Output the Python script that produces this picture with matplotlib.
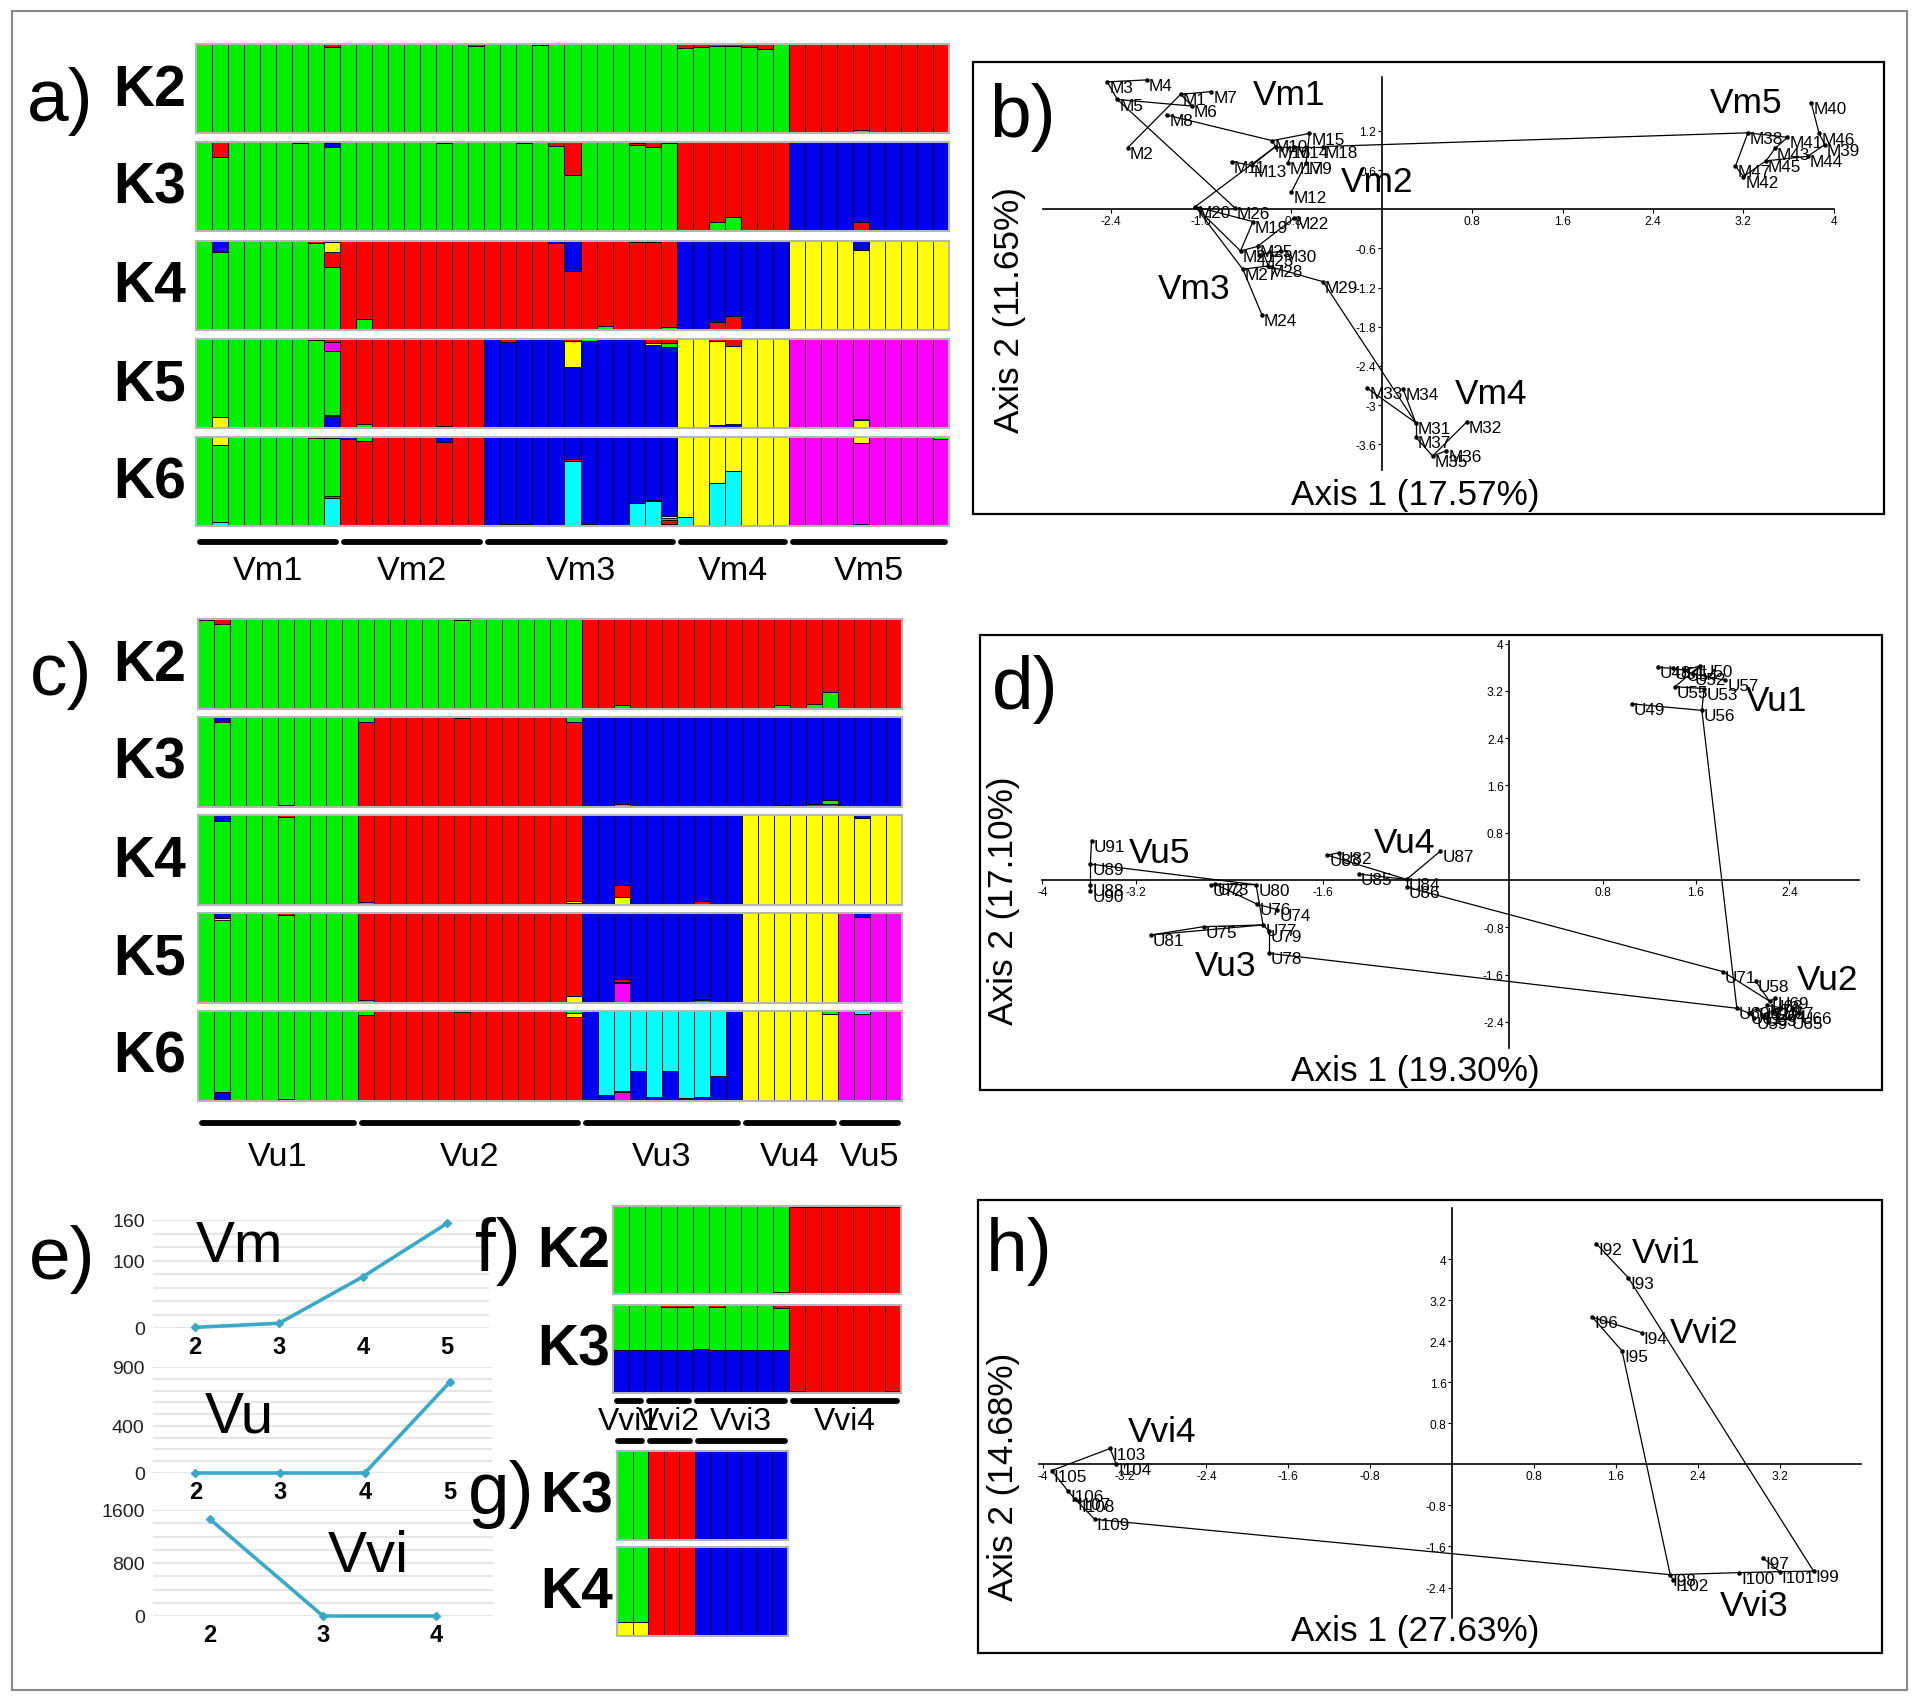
import re
import numpy as np
import matplotlib
matplotlib.use('Agg')
import matplotlib.pyplot as plt
from matplotlib import font_manager
from matplotlib.patches import Rectangle
from matplotlib.lines import Line2D

# ---------------- data ----------------
# admixture bars: one token per individual, clusters listed bottom -> top,
# number = percent, last cluster takes the rest
CLUSTER_COLORS = {'g': '#00f000', 'r': '#ff0000', 'b': '#0000f0',
                  'y': '#ffff00', 'm': '#ff00ff', 'c': '#00ffff'}

A_POPS = ["Vm1", "Vm2", "Vm3", "Vm4", "Vm5"]
A_SIZES = [9, 9, 12, 7, 10]
A_K2 = ["g g g g g g g g g97r",
        "g g g g g g g g g98r",
        "g g g g99r g g g g g g g g",
        "g96r g97r g98r g98r g97r g94r g",
        "r r r r g3r r r r r r"]
A_K3 = ["g g84r g g g g g99b g g95b4r",
        "g g g g g g g99b g g",
        "g g g99r g g96r g63r g g g g97r2b g95r g99b",
        "r r g11r g16r r r r",
        "b b b b r11b b b b b r1b"]
A_K4 = ["g g87b g g g g g g97r g70r17y11b",
        "r g12r r r r r r r r",
        "r r r r r97b r66b r g4r r r98b r98b g3r",
        "b b r8b r15b b b b",
        "y y y y y89b y y y y y99b"]
A_K5 = ["g y12g g g g g g g99r b13y1g72m11r",
        "r g4r r r r r b2r r r",
        "b b97r b b b b68y30r b98g b b b b93y2r b91g4r",
        "y y b3y95r b4y88r y y y",
        "m m m m y9g1m m m m m m"]
A_K6 = ["g c5g86y g g g g g g99r c32m2g65b",
        "r98b r96g r r r r r95b r r",
        "b r2g1b c2b b b c73r2b g2b b b c26b c28r2b c3r4g2y2b",
        "c10y y c48y c62y y y y",
        "m m m m c3m91y m m m m m98g"]

C_POPS = ["Vu1", "Vu2", "Vu3", "Vu4", "Vu5"]
C_SIZES = [10, 14, 10, 6, 4]
C_K2 = ["g99r g95r g g g g g g g g",
        "g g g g g g g99r g g g g g g g",
        "r r g4r r r r r r r r",
        "r r g5r r g6r g19r",
        "r r r r"]
C_K3 = ["g g94b g g g r2g g g g g",
        "r95g r r r r r r99b r r r r r r r95g",
        "b b r1g2b b b b b r1b b b",
        "b b r2b b r3b r3g5b",
        "b b b b"]
C_K4 = ["g g93b g g g g98r g g g g",
        "g3r r r r r r r r r r r r r g2y2r",
        "b b y9r13b b b b b y1r3b b b",
        "y y y y y g1y",
        "y y97b y y"]
C_K5 = ["g g92y2r1b g g g g98r g g g g",
        "g3r r r r r r r r r r r r r y8r",
        "b b m22g1r4b b b b b m3r2b b b",
        "y y y y y g1y",
        "m m96b m m"]
C_K6 = ["g b10g g g g r2g g g g g",
        "r96g r r r r r r99c r r r r r r r93y5g",
        "b b7c m10r1c b33c b5c b33c b3c b4c b28c b",
        "y y y y y y97g",
        "m m97c m m"]

F_POPS = ["Vvi1", "Vvi2", "Vvi3", "Vvi4"]
F_SIZES = [2, 3, 6, 7]
F_K2 = ["g g",
        "g r1g g",
        "g r1g g r1g g r2g",
        "r99g r99g r99g r99g r99g r99g r99g"]
F_K3 = ["b49g b49g",
        "b49g b49g49r b49g49r",
        "b50g b49g49r b49g b49g b49g b49g48r",
        "g2r g1r g1r g1r g1r g1r g2r"]

G_SIZES = [2, 3, 6]
G_K3 = ["g g", "r b1r r", "b b b b b b"]
G_K4 = ["y16g y16g", "r b1r r", "b b b b b b"]

# PCoA, panel b
B_NAMES = ["M1", "M2", "M3", "M4", "M5", "M6", "M7", "M8", "M9", "M10", "M11", "M12",
           "M13", "M14", "M15", "M16", "M17", "M18", "M19", "M20", "M21", "M22", "M23",
           "M24", "M25", "M26", "M27", "M28", "M29", "M30", "M31", "M32", "M33", "M34",
           "M35", "M36", "M37", "M38", "M39", "M40", "M41", "M42", "M43", "M44", "M45",
           "M46", "M47"]
B_X = [-1.78, -2.25, -2.43, -2.08, -2.34, -1.68, -1.51, -1.90, -0.67, -0.97, -1.33, -0.80,
       -1.15, -0.78, -0.64, -0.94, -0.83, -0.52, -1.14, -1.65, -1.25, -0.78, -1.09,
       -1.06, -1.10, -1.30, -1.23, -1.01, -0.52, -0.89, 0.30, 0.75, -0.13, 0.19,
       0.45, 0.57, 0.30, 3.24, 3.92, 3.80, 3.59, 3.20, 3.48, 3.77, 3.40,
       3.87, 3.13]
B_Y = [1.76, 0.94, 1.95, 1.98, 1.68, 1.58, 1.80, 1.44, 0.71, 1.05, 0.73, 0.26,
       0.67, 0.96, 1.16, 0.96, 0.71, 0.96, -0.19, 0.04, -0.64, -0.14, -0.70,
       -1.62, -0.57, 0.02, -0.92, -0.87, -1.11, -0.64, -3.27, -3.26, -2.74, -2.76,
       -3.78, -3.70, -3.49, 1.17, 0.99, 1.63, 1.10, 0.50, 0.93, 0.81, 0.74,
       1.16, 0.66]
B_EDGES = [("M3", "M4"), ("M3", "M5"), ("M5", "M6"), ("M5", "M26"), ("M1", "M7"),
           ("M1", "M2"), ("M1", "M6"), ("M8", "M10"), ("M10", "M15"), ("M10", "M16"),
           ("M16", "M14"), ("M14", "M18"), ("M18", "M38"), ("M15", "M9"), ("M9", "M12"),
           ("M11", "M13"), ("M13", "M16"), ("M16", "M20"), ("M17", "M14"),
           ("M20", "M19"), ("M20", "M27"), ("M20", "M21"), ("M19", "M21"),
           ("M22", "M25"), ("M21", "M25"), ("M25", "M23"), ("M23", "M30"),
           ("M27", "M28"), ("M28", "M29"), ("M27", "M24"), ("M29", "M31"),
           ("M33", "M31"), ("M34", "M31"), ("M31", "M37"), ("M37", "M35"),
           ("M35", "M36"), ("M35", "M32"), ("M38", "M41"), ("M38", "M47"),
           ("M47", "M42"), ("M41", "M43"), ("M43", "M45"), ("M45", "M44"),
           ("M44", "M39"), ("M39", "M46"), ("M46", "M40"), ("M45", "M42")]
B_GROUPS = ["Vm1", "Vm2", "Vm3", "Vm4", "Vm5"]
B_GX = [-0.82, -0.04, -1.66, 0.97, 3.22]
B_GY = [1.76, 0.43, -1.21, -2.83, 1.63]

# PCoA, panel d
D_NAMES = ["U48", "U49", "U50", "U51", "U52", "U53", "U54", "U55", "U56", "U57",
           "U58", "U59", "U60", "U61", "U62", "U63", "U64", "U65", "U66", "U67",
           "U68", "U69", "U70", "U71", "U72", "U73", "U74", "U75", "U76", "U77",
           "U78", "U79", "U80", "U81", "U82", "U83", "U84", "U85", "U86", "U87",
           "U88", "U89", "U90", "U91"]
D_X = [1.27, 1.05, 1.63, 1.40, 1.57, 1.67, 1.50, 1.42, 1.65, 1.85,
       2.11, 2.10, 1.95, 2.05, 2.12, 2.18, 2.26, 2.40, 2.48, 2.32,
       2.23, 2.28, 2.21, 1.83, -2.56, -2.52, -1.99, -2.62, -2.16, -2.11,
       -2.06, -2.06, -2.17, -3.07, -1.46, -1.56, -0.88, -1.29, -0.88, -0.59,
       -3.59, -3.59, -3.59, -3.58]
D_Y = [3.60, 2.98, 3.62, 3.58, 3.49, 3.24, 3.55, 3.27, 2.87, 3.38,
       -1.71, -2.33, -2.17, -2.25, -2.18, -2.28, -2.21, -2.34, -2.25, -2.16,
       -2.05, -2.00, -2.12, -1.55, -0.09, -0.07, -0.50, -0.79, -0.41, -0.76,
       -1.24, -0.86, -0.08, -0.93, 0.46, 0.42, 0.01, 0.10, -0.12, 0.49,
       -0.08, 0.27, -0.18, 0.66]
D_EDGES = [("U48", "U51"), ("U51", "U54"), ("U54", "U50"), ("U50", "U52"),
           ("U52", "U57"), ("U50", "U55"), ("U55", "U53"), ("U53", "U56"),
           ("U49", "U56"), ("U56", "U60"), ("U60", "U78"), ("U71", "U86"),
           ("U71", "U68"), ("U58", "U68"), ("U60", "U61"), ("U61", "U62"),
           ("U62", "U63"), ("U63", "U64"), ("U64", "U65"), ("U65", "U66"),
           ("U64", "U67"), ("U67", "U70"), ("U68", "U69"), ("U59", "U61"),
           ("U84", "U83"), ("U83", "U82"), ("U84", "U87"), ("U84", "U85"),
           ("U84", "U86"), ("U89", "U80"), ("U91", "U89"), ("U89", "U88"),
           ("U88", "U90"), ("U73", "U72"), ("U73", "U80"), ("U73", "U76"),
           ("U76", "U74"), ("U80", "U77"), ("U77", "U75"), ("U75", "U81"),
           ("U81", "U77"), ("U77", "U79"), ("U79", "U78")]
D_GROUPS = ["Vu1", "Vu2", "Vu3", "Vu4", "Vu5"]
D_GX = [2.29, 2.73, -2.43, -0.90, -3.00]
D_GY = [3.03, -1.69, -1.44, 0.63, 0.46]

# PCoA, panel h
H_NAMES = ["I92", "I93", "I94", "I95", "I96", "I97", "I98", "I99", "I100", "I101",
           "I102", "I103", "I104", "I105", "I106", "I107", "I108", "I109"]
H_X = [1.41, 1.72, 1.85, 1.66, 1.37, 3.04, 2.13, 3.53, 2.80, 3.20,
       2.16, -3.34, -3.28, -3.91, -3.75, -3.68, -3.64, -3.49]
H_Y = [4.30, 3.64, 2.57, 2.21, 2.87, -1.83, -2.15, -2.08, -2.11, -2.09,
       -2.26, 0.31, 0.00, -0.12, -0.52, -0.68, -0.72, -1.07]
H_EDGES = [("I92", "I93"), ("I93", "I99"), ("I96", "I94"), ("I96", "I95"),
           ("I95", "I98"), ("I98", "I102"), ("I98", "I100"), ("I100", "I101"),
           ("I101", "I99"), ("I97", "I101"), ("I98", "I109"), ("I109", "I107"),
           ("I107", "I106"), ("I106", "I105"), ("I105", "I103"), ("I103", "I104"),
           ("I108", "I107")]
H_GROUPS = ["Vvi1", "Vvi2", "Vvi3", "Vvi4"]
H_GX = [2.09, 2.46, 2.95, -2.83]
H_GY = [4.14, 2.57, -2.76, 0.65]

# delta K curves (panel e)
E_K_VM = [2, 3, 4, 5]
E_VM = [1, 7, 76, 155]
E_K_VU = [2, 3, 4, 5]
E_VU = [0, 0, 0, 770]
E_K_VVI = [2, 3, 4]
E_VVI = [1465, 0, 0]

# ---------------- layout helpers ----------------
W, H = 1920, 1706
fig = plt.figure(figsize=(W / 100, H / 100), dpi=100)

font_names = {f.name for f in font_manager.fontManager.ttflist}
if 'Liberation Sans Narrow' in font_names:
    NARROW, NS = 'Liberation Sans Narrow', 1.0
else:
    NARROW, NS = 'Liberation Sans', 0.82
SANS = 'Liberation Sans'
LINE = '#3aa9c8'


def rect(x0, y0, x1, y1):
    return [x0 / W, 1 - y1 / H, (x1 - x0) / W, (y1 - y0) / H]


def ftext(x, y, s, **kw):
    fig.text(x / W, 1 - y / H, s, **kw)


def parse(token):
    out, used = [], 0.0
    for key, num in re.findall(r'([a-z])(\d*)', token):
        v = int(num) / 100 if num else 1 - used
        out.append((key, v))
        used += v
    return out


def structure_rows(rows, labels, x0, x1, top, step, height, lab_x):
    for row, lab, k in zip(rows, labels, range(len(rows))):
        tokens = " ".join(row).split()
        y0 = top + k * step
        ax = fig.add_axes(rect(x0, y0, x1, y0 + height))
        for i, tok in enumerate(tokens):
            bottom = 0
            for key, v in parse(tok):
                ax.bar(i, v, bottom=bottom, width=1.0, align='edge',
                       color=CLUSTER_COLORS[key], edgecolor='black', linewidth=0.6)
                bottom += v
        ax.set_xlim(0, len(tokens))
        ax.set_ylim(0, 1)
        ax.set_xticks([])
        ax.set_yticks([])
        for s in ax.spines.values():
            s.set_color('#b5b5b5')
            s.set_linewidth(1.5)
        ftext(lab_x, y0 + height / 2 + 1, lab, fontsize=41, fontweight='bold',
              family=SANS, ha='center', va='center')


def underline(x0, x1, sizes, y, labels=None, label_y=None, fs=30):
    bw = (x1 - x0) / sum(sizes)
    start = 0
    for k, s in enumerate(sizes):
        a = x0 + start * bw + 4
        b = x0 + (start + s) * bw - 4
        fig.add_artist(Line2D([a / W, b / W], [1 - y / H] * 2, color='black', lw=4.2,
                              solid_capstyle='round'))
        if labels:
            ftext((a + b) / 2, label_y, labels[k], fontsize=fs * NS, family=NARROW,
                  ha='center', va='center')
        start += s


def pcoa(box, ox, sx, oy, sy, names, xs, ys, edges, groups, gx, gy, xt, yt, hb, vb,
         xlabel, xlp, ylabel, ylp, letter, lp):
    x0, y0, x1, y1 = box
    fig.add_artist(Rectangle((x0 / W, 1 - y1 / H), (x1 - x0) / W, (y1 - y0) / H,
                             transform=fig.transFigure, fill=False, ec='black', lw=1.6))
    ax = fig.add_axes(rect(*box))
    ax.patch.set_alpha(0)
    ax.set_xlim((x0 - ox) / sx, (x1 - ox) / sx)
    ax.set_ylim((oy - y1) / sy, (oy - y0) / sy)
    ax.spines['top'].set_visible(False)
    ax.spines['right'].set_visible(False)
    ax.spines['left'].set_position(('data', 0))
    ax.spines['bottom'].set_position(('data', 0))
    ax.spines['left'].set_bounds(*vb)
    ax.spines['bottom'].set_bounds(*hb)
    ax.spines['left'].set_linewidth(1.2)
    ax.spines['bottom'].set_linewidth(1.2)
    ax.set_xticks(xt)
    ax.set_xticklabels([f'{v:g}' for v in xt])
    ax.set_yticks(yt)
    ax.set_yticklabels([f'{v:g}' for v in yt])
    ax.tick_params(direction='out', length=3, width=0.8, labelsize=10.5 * NS, pad=1)
    for lab in ax.get_xticklabels() + ax.get_yticklabels():
        lab.set_family(NARROW)
    idx = {n: i for i, n in enumerate(names)}
    for a, b in edges:
        ax.plot([xs[idx[a]], xs[idx[b]]], [ys[idx[a]], ys[idx[b]]], color='black', lw=0.9)
    ax.scatter(xs, ys, s=5, color='black', zorder=3)
    for n, x, y in zip(names, xs, ys):
        ax.annotate(n, (x, y), xytext=(1.5, -4), textcoords='offset points',
                    fontsize=15 * NS, family=NARROW, ha='left', va='center')
    for g, x, y in zip(groups, gx, gy):
        ax.text(x, y, g, fontsize=31 * NS, family=NARROW, ha='center', va='center')
    ftext(xlp[0], xlp[1], xlabel, fontsize=31 * NS, family=NARROW, ha='center', va='center')
    ftext(ylp[0], ylp[1], ylabel, fontsize=31 * NS, family=NARROW, ha='center',
          va='center', rotation=90)
    ftext(lp[0], lp[1], letter, fontsize=54, family=SANS, ha='center', va='center')


def trend(box, ks, vals, top, step, yt, name, npos):
    ax = fig.add_axes(rect(*box))
    n = len(ks)
    ax.plot(range(n), vals, color=LINE, lw=2.6, marker='D', ms=4, clip_on=False, zorder=3)
    ax.set_xlim(-0.5, n - 0.5)
    ax.set_ylim(0, top)
    ax.set_yticks(yt)
    ax.set_yticks(np.arange(0, top + 1, step), minor=True)
    ax.grid(axis='y', which='both', color='#e6e6e6', lw=1.5)
    ax.set_axisbelow(True)
    ax.set_xticks(range(n))
    ax.set_xticklabels([str(k) for k in ks], fontweight='bold', fontsize=17, family=SANS)
    for lab in ax.get_yticklabels():
        lab.set_family(SANS)
    ax.tick_params(axis='y', which='both', length=0, labelsize=14, pad=6, labelcolor='#222222')
    ax.tick_params(axis='x', length=0, pad=5)
    for s in ax.spines.values():
        s.set_visible(False)
    ftext(npos[0], npos[1], name, fontsize=42, family=SANS, ha='center', va='center')


# ---------------- panel a ----------------
K_LABELS = ["K2", "K3", "K4", "K5", "K6"]
structure_rows([A_K2, A_K3, A_K4, A_K5, A_K6], K_LABELS, 196, 949, 45, 98.3, 89, 150)
underline(196, 949, A_SIZES, 543, A_POPS, 572)
ftext(60, 102, "a)", fontsize=54, family=SANS, ha='center', va='center')

# ---------------- panel c ----------------
structure_rows([C_K2, C_K3, C_K4, C_K5, C_K6], K_LABELS, 198, 902, 620, 98, 90, 150)
underline(198, 902, C_SIZES, 1124, C_POPS, 1157)
ftext(61, 675, "c)", fontsize=54, family=SANS, ha='center', va='center')

# ---------------- panels f, g ----------------
structure_rows([F_K2, F_K3], ["K2", "K3"], 613, 901, 1207, 99, 88, 574)
underline(613, 901, F_SIZES, 1402, F_POPS, 1422, fs=28)
underline(614, 789, G_SIZES, 1442)
ftext(498, 1252, "f)", fontsize=54, family=SANS, ha='center', va='center')
structure_rows([G_K3, G_K4], ["K3", "K4"], 617, 788, 1452, 96, 89, 577)
ftext(501, 1495, "g)", fontsize=54, family=SANS, ha='center', va='center')

# ---------------- panel e ----------------
trend((153, 1221, 489, 1329), E_K_VM, E_VM, 160, 20, [0, 100, 160], "Vm", (239, 1247))
trend((153, 1368, 492, 1474), E_K_VU, E_VU, 900, 100, [0, 400, 900], "Vu", (239, 1418))
trend((153, 1511, 493, 1617), E_K_VVI, E_VVI, 1600, 200, [0, 800, 1600], "Vvi", (368, 1557))
ftext(62, 1260, "e)", fontsize=54, family=SANS, ha='center', va='center')

# ---------------- PCoA panels ----------------
pcoa((973, 63, 1884, 515), 1381.8, 113.0, 210.2, 65.3, B_NAMES, B_X, B_Y, B_EDGES,
     B_GROUPS, B_GX, B_GY,
     [-2.4, -1.6, -0.8, 0.8, 1.6, 2.4, 3.2, 4], [1.2, 0.6, -0.6, -1.2, -1.8, -2.4, -3, -3.6],
     (-3.0, 4.0), (-4.0, 2.02), "Axis 1 (17.57%)", (1415, 495),
     "Axis 2 (11.65%)", (1010, 310), "b)", (1023, 118))
pcoa((980, 636, 1882, 1091), 1509.3, 116.7, 881.0, 59.1, D_NAMES, D_X, D_Y, D_EDGES,
     D_GROUPS, D_GX, D_GY,
     [-4, -3.2, -1.6, 0.8, 1.6, 2.4], [4, 3.2, 2.4, 1.6, 0.8, -0.8, -1.6, -2.4],
     (-4.0, 3.0), (-2.85, 4.05), "Axis 1 (19.30%)", (1415, 1071),
     "Axis 2 (17.10%)", (1004, 901), "d)", (1025, 690))
pcoa((978, 1201, 1882, 1654), 1452.1, 102.4, 1465.4, 51.3, H_NAMES, H_X, H_Y, H_EDGES,
     H_GROUPS, H_GX, H_GY,
     [-4, -3.2, -2.4, -1.6, -0.8, 0.8, 1.6, 2.4, 3.2], [4, 3.2, 2.4, 1.6, 0.8, -0.8, -1.6, -2.4],
     (-4.03, 3.99), (-2.99, 5.0), "Axis 1 (27.63%)", (1415, 1632),
     "Axis 2 (14.68%)", (1004, 1477), "h)", (1019, 1252))

# outer frame
fig.add_artist(Rectangle((12 / W, 1 - 1691 / H), (1907 - 12) / W, (1691 - 12) / H,
                         transform=fig.transFigure, fill=False, ec='#8a8a8a', lw=1.5))

fig.savefig('out.png', dpi=100)
